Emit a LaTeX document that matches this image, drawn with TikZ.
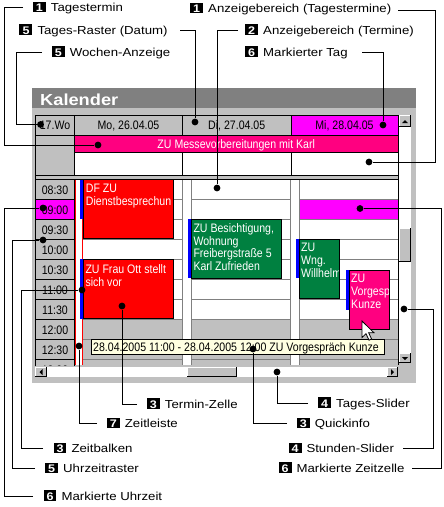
\documentclass[tikz,border=0pt]{standalone}
\usepackage{fontspec}
\setmainfont[FakeStretch=1.14]{Liberation Sans}
\newfontfamily\calfnt[FakeStretch=0.86]{Liberation Sans}
\definecolor{wgray}{HTML}{C0C0C0}
\definecolor{dgray}{HTML}{808080}
\definecolor{mag}{HTML}{FF00FF}
\definecolor{hotpink}{HTML}{FF0080}
\definecolor{apgreen}{HTML}{008040}
\definecolor{apred}{HTML}{FF0000}
\definecolor{apblue}{HTML}{0000FF}
\definecolor{tipyellow}{HTML}{FFFFE1}
\newcommand\lblfont{\fontsize{11.6}{13}\selectfont}
\newcommand\kalfont{\calfnt\fontsize{12.3}{12.7}\selectfont}
\newcommand\nb[1]{{\setlength{\fboxsep}{0pt}\colorbox{black}{\makebox[13pt]{\rule[-0.6pt]{0pt}{10.4pt}\color{white}\bfseries\fontsize{11}{11}\selectfont #1}}}}
\newcommand\btn[4]{%
  \fill[wgray] (#1,#2) rectangle (#3,#4);
  \draw[white,line width=1pt] (#1+0.5,#4-1) -- (#1+0.5,#2+0.5) -- (#3-1,#2+0.5);
  \draw[black,line width=1pt] (#1,#4-0.5) -- (#3-0.5,#4-0.5) -- (#3-0.5,#2);}
\tikzset{
  lbl/.style={anchor=west, inner sep=0pt, text height=10pt, text depth=1.6pt, font=\lblfont},
  dotn/.style={circle, fill=black, inner sep=0pt, minimum size=6.8pt},
  conn/.style={line width=1pt, black},
  kal/.style={font=\kalfont, inner sep=0pt, text height=8.8pt, text depth=0pt},
  apptxt/.style={font=\kalfont, text=white, inner sep=0pt, anchor=north west, align=left},
  gridln/.style={dgray, line width=1pt},
  blk/.style={black, line width=1pt},
  redln/.style={apred, line width=1pt},
}
\begin{document}
\begin{tikzpicture}[x=1pt,y=-1pt]
\useasboundingbox (0,0) rectangle (444,507);
\fill[white] (0,0) rectangle (444,507);
% window
\fill[wgray] (32,88) rectangle (416,383);
\fill[dgray] (32,88) rectangle (416,108);
\node[anchor=base west, inner sep=0pt, text=white, font=\fontsize{16}{18}\selectfont\bfseries] (title) at (40,105) {Kalender};
% header
\fill[wgray] (35,115) rectangle (398,179);
\draw[blk, fill=wgray] (35.5,115.5) rectangle (74.5,135);
\node[kal] (wo) at (55,125.5) {17.Wo};
\draw[blk, fill=wgray] (74.5,115.5) rectangle (182.5,135);
\node[kal] (mo) at (128.5,125.5) {Mo, 26.04.05};
\draw[blk, fill=wgray] (182.5,115.5) rectangle (291,135);
\node[kal] (di) at (236.75,125.5) {Di, 27.04.05};
\draw[blk, fill=mag] (291,115.5) rectangle (398,135);
\node[kal] (mi) at (344.5,125.5) {Mi, 28.04.05};
\draw[blk, fill=white] (74.5,135) rectangle (398,175);
\draw[blk, fill=hotpink] (74.5,135) rectangle (398,152);
\node[kal, text=white] (tt) at (236.25,144) {ZU Messevorbereitungen mit Karl};
\draw[blk] (182.5,152) -- (182.5,175) (291,152) -- (291,175);
\draw[blk] (35.5,135) -- (35.5,179);
\draw[blk] (35,175) -- (398,175);
% grid
\begin{scope}
\clip (35,179) rectangle (398.5,365);
\foreach \t/\c [count=\i from 0] in {08:30/wgray,09:00/mag,09:30/wgray,10:00/wgray,10:30/wgray,11:00/wgray,11:30/wgray,12:00/wgray,12:30/wgray,13:00/wgray}{
  \pgfmathsetmacro\yy{179+20*\i}
  \draw[blk, fill=\c] (35.5,\yy) rectangle (74.3,\yy+20);
  \node[kal] (time\i) at (55,\yy+10.8) {\t};
}
\fill[white] (74.8,179) rectangle (398,365);
\fill[wgray] (83,319) rectangle (182.7,365);
\fill[wgray] (191.7,319) rectangle (290.7,365);
\fill[wgray] (299.3,319) rectangle (398,365);
\fill[mag] (299.3,199) rectangle (398,219);
\foreach \y in {199,219,...,359}{
  \draw[gridln] (83,\y) -- (182.7,\y);
  \draw[gridln] (191.7,\y) -- (290.7,\y);
  \draw[gridln] (299.3,\y) -- (398,\y);
}
\draw[gridln] (182.7,179) -- (182.7,365) (191.7,179) -- (191.7,365)
  (290.7,179) -- (290.7,365) (299.3,179) -- (299.3,365);
\draw[redln] (75.7,179) -- (75.7,365) (82.7,179) -- (82.7,365);
% appointments
\fill[apblue] (79.7,179.5) rectangle (83,218.5);
\draw[blk, fill=apred] (83,179.5) rectangle (173,238.5);
\begin{scope}\clip (83,179.5) rectangle (172.5,238.5);
\node[apptxt] (ap1) at (85.7,184.3) {DF ZU\\Dienstbesprechun};
\end{scope}
\fill[apblue] (79.7,259) rectangle (83,319);
\draw[blk, fill=apred] (83,259) rectangle (173,318.5);
\begin{scope}\clip (83,259) rectangle (172.5,318.5);
\node[apptxt] (ap2) at (85.3,264.3) {ZU Frau Ott stellt\\sich vor};
\end{scope}
\fill[apblue] (188.3,219.3) rectangle (191.7,278.3);
\draw[blk, fill=apgreen] (191.7,219.3) rectangle (281.7,278.3);
\begin{scope}\clip (191.7,219.3) rectangle (281.2,278.3);
\node[apptxt] (ap3) at (193.3,223.3) {ZU Besichtigung,\\Wohnung\\Freibergstraße 5\\Karl Zufrieden};
\end{scope}
\fill[apblue] (296,239.3) rectangle (299.3,278.3);
\draw[blk, fill=apgreen] (299.3,239.3) rectangle (339.3,298.3);
\begin{scope}\clip (299.3,239.3) rectangle (338.8,298.3);
\node[apptxt] (ap4) at (301,243.3) {ZU\\Wng.\\Willhelm};
\end{scope}
\fill[apblue] (346,270) rectangle (349.3,310);
\draw[blk, fill=hotpink] (349.3,270) rectangle (389.3,329.3);
\begin{scope}\clip (349.3,270) rectangle (388.8,329.3);
\node[apptxt] (ap5) at (351,274.3) {ZU\\Vorgesp\\Kunze};
\end{scope}
\end{scope}
\draw[blk] (35,179) -- (398.5,179);
\draw[blk] (398.5,115) -- (398.5,365);
% tooltip
\draw[blk, fill=tipyellow] (91,339.3) rectangle (384,354.3);
\node[kal, anchor=west, text depth=0pt] (tip) at (93,347) {28.04.2005 11:00 - 28.04.2005 12:00 ZU Vorgespräch Kunze};
% cursor
\draw[black, fill=white, line width=0.8pt, line join=miter] (362,321) -- ++(0,16.5) -- ++(4,-3.8) -- ++(3,6.5) -- ++(2.6,-1.2) -- ++(-3,-6.3) -- ++(5.3,0) -- cycle;
% vertical scrollbar
\fill[white] (399,127) rectangle (411,353);
\btn{399}{115}{411}{127}
\fill[black] (402,123) -- (408,123) -- (405,120) -- cycle;
\btn{399}{228}{411}{262}
\btn{399}{353}{411}{363}
\fill[black] (402,357) -- (408,357) -- (405,360) -- cycle;
% horizontal scrollbar
\fill[white] (47,367) rectangle (387,377);
\btn{35}{367}{47}{377}
\fill[black] (42.5,369) -- (42.5,375) -- (39.5,372) -- cycle;
\btn{187}{367}{237}{377}
\btn{387}{367}{398}{377}
\fill[black] (391,369) -- (391,375) -- (394,372) -- cycle;
% dots
\node[dotn] (dTag) at (98,145) {};
\node[dotn] (dRaster) at (195,122) {};
\node[dotn] (dWoche) at (40.5,124.5) {};
\node[dotn] (dAnzT) at (369,162) {};
\node[dotn] (dAnz) at (217,188) {};
\node[dotn] (dMTag) at (383,125) {};
\node[dotn] (dZelle) at (122,306) {};
\node[dotn] (dLeiste) at (79,346) {};
\node[dotn] (dBalken) at (82,290) {};
\node[dotn] (dRaster2) at (43,240) {};
\node[dotn] (dMUhr) at (43,208) {};
\node[dotn] (dSlider) at (277,372) {};
\node[dotn] (dQuick) at (253,349) {};
\node[dotn] (dStunden) at (404,309) {};
\node[dotn] (dMZelle) at (360,208.5) {};
% labels
\node[lbl] (lTag) at (32.7,7.5) {\nb{1}\hspace{5pt}Tagestermin};
\node[lbl] (lRaster) at (19.3,30) {\nb{5}\hspace{5pt}Tages-Raster (Datum)};
\node[lbl] (lWoche) at (51.7,52) {\nb{5}\hspace{5pt}Wochen-Anzeige};
\node[lbl] (lAnzT) at (190,8.5) {\nb{1}\hspace{5pt}Anzeigebereich (Tagestermine)};
\node[lbl] (lAnz) at (245,30) {\nb{2}\hspace{5pt}Anzeigebereich (Termine)};
\node[lbl] (lMTag) at (245,52) {\nb{6}\hspace{5pt}Markierter Tag};
\node[lbl] (lZelle) at (146.7,404) {\nb{3}\hspace{5pt}Termin-Zelle};
\node[lbl] (lLeiste) at (106.7,423.5) {\nb{7}\hspace{5pt}Zeitleiste};
\node[lbl] (lBalken) at (53.3,448.5) {\nb{3}\hspace{5pt}Zeitbalken};
\node[lbl] (lRaster2) at (45,468.5) {\nb{5}\hspace{5pt}Uhrzeitraster};
\node[lbl] (lMUhr) at (43.3,496) {\nb{6}\hspace{5pt}Markierte Uhrzeit};
\node[lbl] (lSlider) at (318,403) {\nb{4}\hspace{5pt}Tages-Slider};
\node[lbl] (lQuick) at (296.7,423.5) {\nb{3}\hspace{5pt}Quickinfo};
\node[lbl] (lStunden) at (288.3,448.5) {\nb{4}\hspace{5pt}Stunden-Slider};
\node[lbl] (lMZelle) at (278.3,468) {\nb{6}\hspace{5pt}Markierte Zeitzelle};
% connector start points
\coordinate (sTag) at (23,7.5);
\coordinate (sRaster) at (180,30);
\coordinate (sWoche) at (42,52);
\coordinate (sAnzT) at (398,10);
\coordinate (sAnz) at (238,30);
\coordinate (sMTag) at (362,52);
\coordinate (sZelle) at (137,404);
\coordinate (sLeiste) at (97,423.5);
\coordinate (sBalken) at (43,448.5);
\coordinate (sRaster2) at (35,468.5);
\coordinate (sMUhr) at (33,496);
\coordinate (sSlider) at (308,403);
\coordinate (sQuick) at (287,423.5);
\coordinate (sStunden) at (403,448.5);
\coordinate (sMZelle) at (412,468);
% connectors
\draw[conn] (sTag) -- (4,7.5) |- (dTag);
\draw[conn] (sRaster) -| (dRaster);
\draw[conn] (sWoche) -- (16,52) |- (dWoche);
\draw[conn] (sAnzT) -- (435,10) |- (dAnzT);
\draw[conn] (sAnz) -| (dAnz);
\draw[conn] (sMTag) -| (dMTag);
\draw[conn] (sZelle) -| (dZelle);
\draw[conn] (sLeiste) -| (dLeiste);
\draw[conn] (sBalken) -- (21.5,448.5) |- (dBalken);
\draw[conn] (sRaster2) -- (12.5,468.5) |- (dRaster2);
\draw[conn] (sMUhr) -- (4,496) |- (dMUhr);
\draw[conn] (sSlider) -| (dSlider);
\draw[conn] (sQuick) -| (dQuick);
\draw[conn] (sStunden) -- (433.5,448.5) |- (dStunden);
\draw[conn] (sMZelle) -- (441.5,468) |- (dMZelle);
\end{tikzpicture}
\end{document}
